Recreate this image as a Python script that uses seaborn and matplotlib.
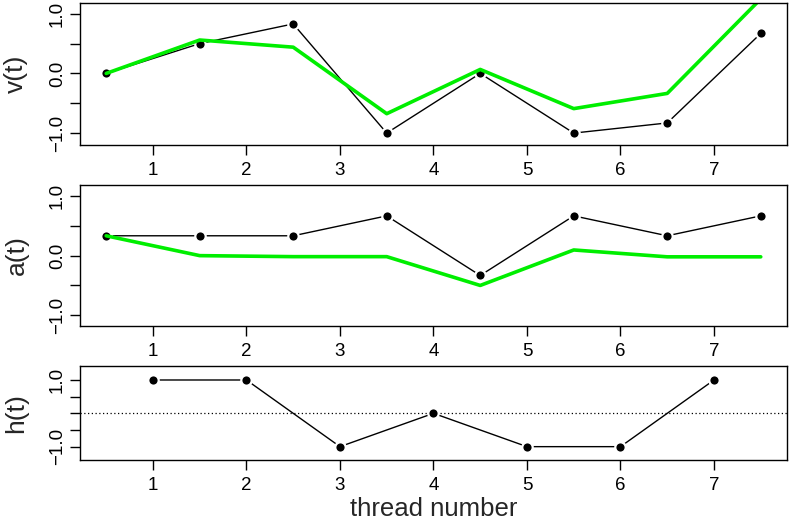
import numpy as np
import pandas as pd
import matplotlib
matplotlib.use("Agg")
import matplotlib.pyplot as plt
import seaborn as sns

# values
half_steps = [0.5, 1.5, 2.5, 3.5, 4.5, 5.5, 6.5, 7.5]
threads = [1, 2, 3, 4, 5, 6, 7]

v_obs = [0.0, 0.5, 0.83, -1.0, 0.0, -1.0, -0.83, 0.67]
v_fit = [0.0, 0.56, 0.44, -0.675, 0.067, -0.59, -0.335, 1.25]

a_obs = [0.333, 0.333, 0.333, 0.667, -0.333, 0.667, 0.333, 0.667]
a_fit = [0.333, 0.0, -0.017, -0.017, -0.5, 0.095, -0.02, -0.02]

h_obs = [1, 1, -1, 0, -1, -1, 1]

x_ticks = [1, 2, 3, 4, 5, 6, 7]
y_ticks = [-1.0, -0.5, 0.0, 0.5, 1.0]
y_ticklabels = ["\u22121.0", "", "0.0", "", "1.0"]
h_ticklabels = ["\u22121.0", "", "", "", "1.0"]

sns.set_theme(style="white")
plt.rcParams["font.family"] = ["Liberation Sans", "DejaVu Sans"]
plt.rcParams["axes.edgecolor"] = "black"
plt.rcParams["axes.linewidth"] = 1.0

fig = plt.figure(figsize=(7.89, 5.22), dpi=100)
ax1 = fig.add_axes([0.1014, 0.7222, 0.896, 0.272])
ax2 = fig.add_axes([0.1014, 0.3755, 0.896, 0.2707])
ax3 = fig.add_axes([0.1014, 0.1188, 0.896, 0.1807])

point_kw = dict(color="black", lw=1, marker="o", ms=7.5, mec="white", mew=1.6)
green_kw = dict(color="#00ee00", lw=2.6)


def style_axis(ax, labels, ylab, ylim):
    ax.set_xlim(0.22, 7.78)
    ax.set_ylim(*ylim)
    ax.set_xticks(x_ticks)
    ax.set_xticklabels([str(t) for t in x_ticks])
    ax.set_yticks(y_ticks)
    ax.set_yticklabels(labels, rotation=90, va="center")
    ax.tick_params(axis="both", direction="out", length=7, width=1,
                   colors="black", labelsize=13.5, pad=5, left=True, bottom=True)
    ax.tick_params(axis="y", pad=3)
    ax.set_ylabel(ylab, fontsize=19)
    ax.yaxis.set_label_coords(-0.073, 0.5)
    ax.set_xlabel("")
    for s in ax.spines.values():
        s.set_visible(True)
        s.set_color("black")


# v(t)
sns.lineplot(x=half_steps, y=v_obs, ax=ax1, **point_kw)
sns.lineplot(x=half_steps, y=v_fit, ax=ax1, **green_kw)
style_axis(ax1, y_ticklabels, "v(t)", (-1.2, 1.18))

# a(t)
sns.lineplot(x=half_steps, y=a_obs, ax=ax2, **point_kw)
sns.lineplot(x=half_steps, y=a_fit, ax=ax2, **green_kw)
style_axis(ax2, y_ticklabels, "a(t)", (-1.18, 1.19))

# h(t)
ax3.axhline(0, color="black", lw=0.9, ls=(0, (1, 2)))
sns.lineplot(x=threads, y=h_obs, ax=ax3, **point_kw)
style_axis(ax3, h_ticklabels, "h(t)", (-1.4, 1.43))
ax3.set_xlabel("thread number", fontsize=18.5)
ax3.xaxis.label.set_va("baseline")
ax3.xaxis.set_label_coords(0.5, -0.59)

fig.savefig("out.png", dpi=100)
